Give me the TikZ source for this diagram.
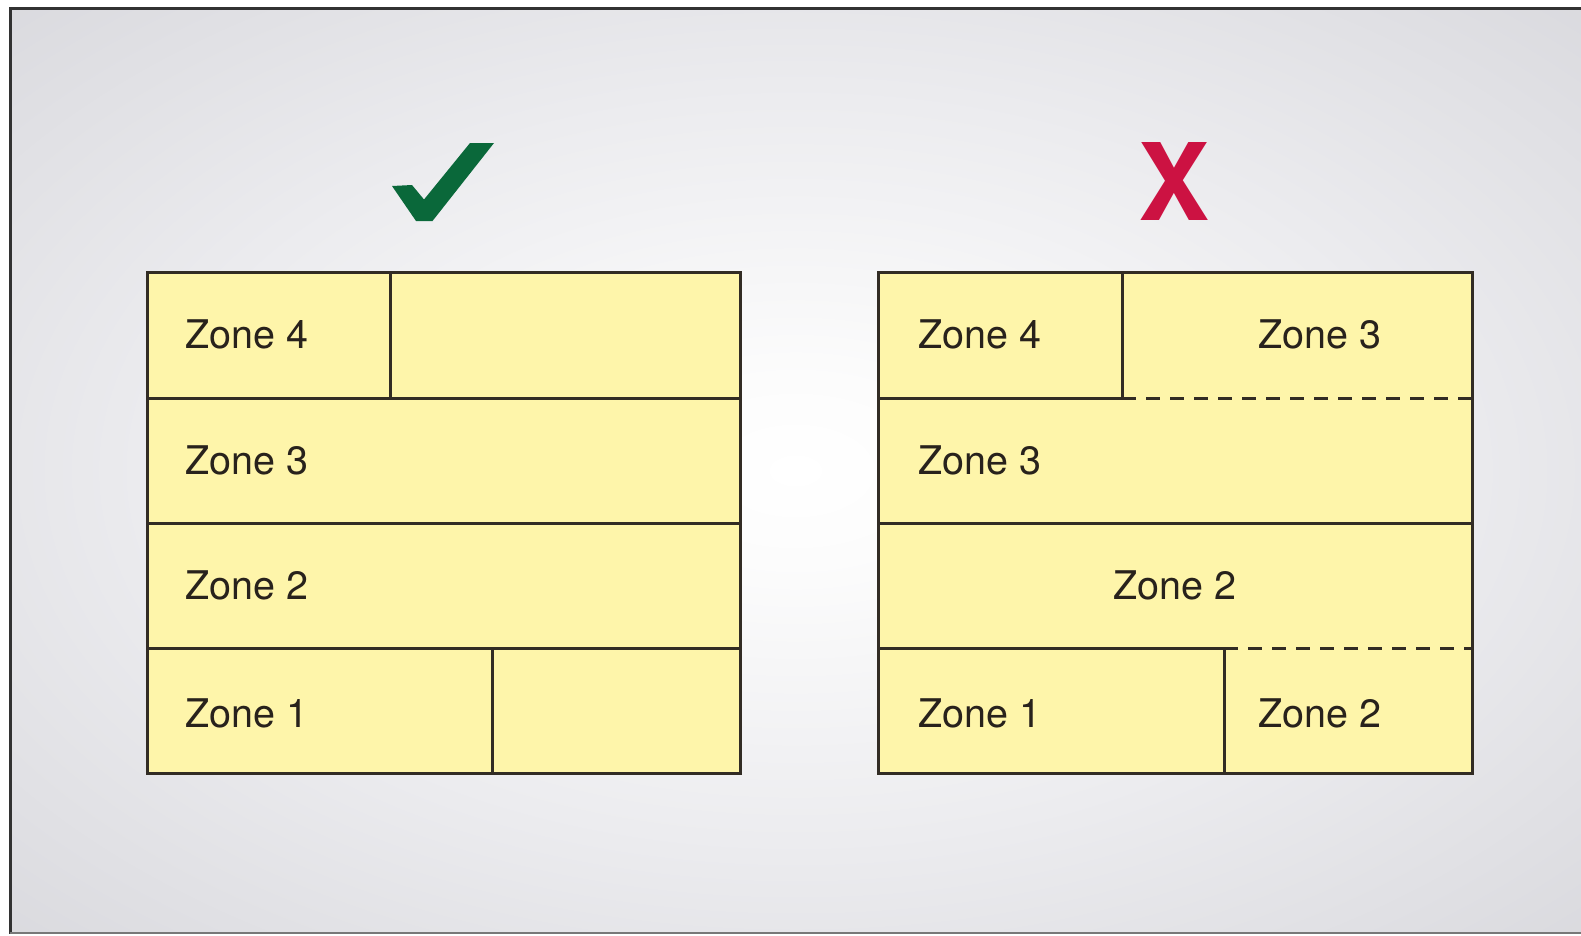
\documentclass[tikz,border=0pt]{standalone}
\usepackage{fontspec}
\setmainfont{TeX Gyre Heros}
\definecolor{bggray}{RGB}{213,213,218}
\definecolor{bgA}{RGB}{252,252,252}
\definecolor{bgB}{RGB}{236,236,239}
\definecolor{zonefill}{RGB}{254,245,170}
\definecolor{zoneline}{RGB}{50,44,36}
\definecolor{zonetext}{RGB}{40,34,28}
\definecolor{framedark}{RGB}{50,50,50}
\definecolor{framelow}{RGB}{120,120,120}
\definecolor{okgreen}{RGB}{10,104,58}
\definecolor{badred}{RGB}{204,18,66}
\pgfdeclareradialshading{bgshade}{\pgfpoint{0bp}{0bp}}{color(0bp)=(white); color(5bp)=(bgA); color(20bp)=(bgB); color(40bp)=(bggray); color(50bp)=(bggray)}
\begin{document}
\begin{tikzpicture}[x=1pt,y=-1pt,
  zone/.style={draw=zoneline, line width=3pt, fill=zonefill},
  sep/.style={draw=zoneline, line width=3pt},
  dsep/.style={draw=zoneline, line width=3pt, dash pattern=on 14pt off 10pt},
  lbl/.style={font=\fontsize{39.5}{41}\selectfont, text=zonetext, inner sep=0pt, anchor=west}]
\fill[white] (0,0) rectangle (1581,935);
\useasboundingbox (0,0) rectangle (1581,935);
\shade[shading=bgshade] (10,8) rectangle (1581,933);
\draw[line width=3pt, framedark] (1581,8) -- (10,8) -- (10,934);
\draw[line width=2pt, framelow] (10,933) -- (1581,933);
% marks
\fill[okgreen] (392,186) -- (412,185) -- (424,199.5) -- (470,143) -- (494,143) -- (432.5,221) -- (416,221) -- cycle;
\node[font=\bfseries\fontsize{107}{107}\selectfont, text=badred, inner sep=0pt] (cross) at (1174,181) {X};
% left panel
\path[zone] (147,272) rectangle (740,773);
\draw[sep] (147,398) -- (740,398) (147,523) -- (740,523) (147,648) -- (740,648)
  (390,272) -- (390,398) (492,648) -- (492,773);
\node[lbl] (l4) at (185,334.5) {Zone 4};
\node[lbl] (l3) at (185,460) {Zone 3};
\node[lbl] (l2) at (185,585.5) {Zone 2};
\node[lbl] (l1) at (185,713) {Zone 1};
% right panel
\path[zone] (878,272) rectangle (1472,773);
\draw[sep] (878,398) -- (1122,398) (878,523) -- (1472,523) (878,648) -- (1224,648)
  (1122,272) -- (1122,398) (1224,648) -- (1224,773);
\draw[dsep] (1122,398) -- (1472,398) (1224,648) -- (1472,648);
\node[lbl] (r4) at (918,334.5) {Zone 4};
\node[lbl] (r3a) at (1258,334.5) {Zone 3};
\node[lbl] (r3) at (918,460) {Zone 3};
\node[lbl, anchor=center] (r2) at (1175,585.5) {Zone 2};
\node[lbl] (r1) at (918,713) {Zone 1};
\node[lbl] (r2b) at (1258,713) {Zone 2};
\end{tikzpicture}
\end{document}
